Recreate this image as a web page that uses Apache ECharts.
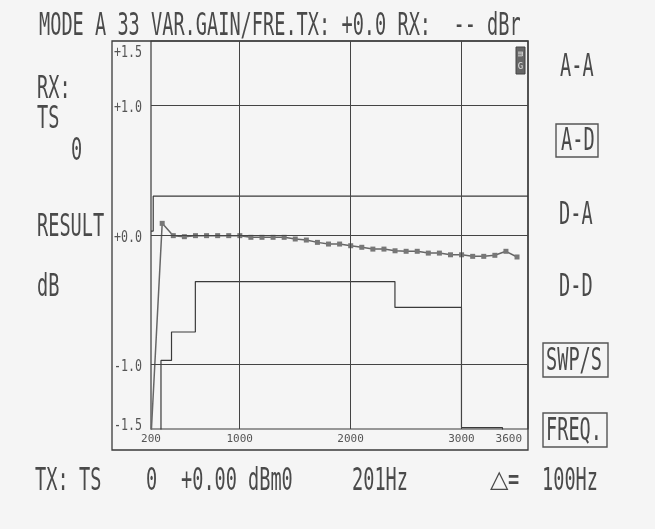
<!DOCTYPE html>
<html>
<head>
<meta charset="utf-8">
<script src="https://cdn.jsdelivr.net/npm/echarts@6/dist/echarts.min.js"></script>
<style>
html,body{margin:0;padding:0;background:#f5f5f5;}
#chart{width:655px;height:529px;}
</style>
</head>
<body>
<div id="chart"></div>
<script>
// ---- data ----
const freqs = [201, 301, 401, 501, 601, 701, 801, 901, 1001, 1101, 1201, 1301, 1401, 1501, 1601, 1701, 1801,
               1901, 2001, 2101, 2201, 2301, 2401, 2501, 2601, 2701, 2801, 2901, 3001, 3101, 3201, 3301, 3401, 3501];
const gain = [-1.55, 0.09, -0.005, -0.013, -0.005, -0.005, -0.005, -0.005, -0.005, -0.018, -0.018, -0.018, -0.018,
              -0.031, -0.039, -0.057, -0.07, -0.07, -0.083, -0.095, -0.109, -0.109, -0.122, -0.126, -0.126,
              -0.14, -0.14, -0.153, -0.153, -0.165, -0.165, -0.157, -0.126, -0.17];
const upperMaskF = [200, 220, 220, 3600];
const upperMaskV = [0.03, 0.03, 0.3, 0.3];
const lowerMaskF = [200, 290, 290, 385, 385, 600, 600, 2400, 2400, 3000, 3000, 3370, 3370, 3600];
const lowerMaskV = [-1.7, -1.7, -0.97, -0.97, -0.75, -0.75, -0.36, -0.36, -0.56, -0.56, -1.49, -1.49, -1.7, -1.7];
const hGrid = [1, 0, -1];
const vGrid = [1000, 2000, 3000];
const yTicks = [-1.5, -1, 0, 1, 1.5];
const xTicks = [200, 1000, 2000, 3000, 3600];

const titleText = 'MODE A 33 VAR.GAIN/FRE.TX: +0.0 RX:  -- dBr';
const leftLabels = ['RX:', 'TS', '0', 'RESULT', 'dB'];
const rightLabels = ['A-A', 'A-D', 'D-A', 'D-D', 'SWP/S', 'FREQ.'];
const boxedRight = ['A-D', 'SWP/S', 'FREQ.'];
const bottomLabels = ['TX:', 'TS', '0', '+0.00', 'dBm0', '201Hz', '\u25B3', '=', '100Hz'];

// ---- layout ----
const MONO = '"DejaVu Sans Mono", "Liberation Mono", monospace';
const TXT = '#4a4a4a';
const LINE = '#3a3a3a';
const BIG = 32, ADV = 11.2;

function monoText(str, left, capCenter, adv, size, color) {
  const s = adv / (0.602 * size);
  return {
    type: 'text', x: left, y: capCenter + 0.065 * size, scaleX: s, silent: true, z: 10,
    style: { text: str, fontFamily: MONO, fontSize: size, fill: color || TXT,
             textAlign: 'left', textVerticalAlign: 'middle', verticalAlign: 'middle' }
  };
}

const leftPos = [[37, 88], [37, 118], [71, 150], [37, 226], [37, 286]];
const rightPos = [[560, 66], [561, 140], [559, 214], [559, 286], [546, 360], [546, 430]];
const boxRects = { 'A-D': [556, 124, 42, 33], 'SWP/S': [543, 343, 65, 34], 'FREQ.': [543, 413, 64, 34] };
const bottomPos = [35, 79, 146, 181, 248, 352, 490, 508, 542];

const graphics = [];
graphics.push({ type: 'rect', shape: { x: 112, y: 41, width: 416, height: 409 },
  style: { fill: 'none', stroke: LINE, lineWidth: 1.3 }, silent: true, z: 1 });
graphics.push(monoText(titleText, 39, 24.5, ADV, BIG));
leftLabels.forEach((t, i) => graphics.push(monoText(t, leftPos[i][0], leftPos[i][1], ADV, BIG)));
rightLabels.forEach((t, i) => {
  graphics.push(monoText(t, rightPos[i][0], rightPos[i][1], ADV, BIG));
  if (boxedRight.indexOf(t) >= 0) {
    const r = boxRects[t];
    graphics.push({ type: 'rect', shape: { x: r[0], y: r[1], width: r[2], height: r[3] },
      style: { fill: 'none', stroke: '#555', lineWidth: 1.4 }, silent: true, z: 10 });
  }
});
bottomLabels.forEach((t, i) => {
  if (t === '\u25B3') {
    graphics.push({ type: 'text', x: bottomPos[i], y: 481, silent: true, z: 10,
      style: { text: t, fontFamily: '"DejaVu Sans"', fontSize: 24, fill: TXT,
               textAlign: 'left', textVerticalAlign: 'middle', verticalAlign: 'middle' } });
  } else {
    graphics.push(monoText(t, bottomPos[i], 480, ADV, BIG));
  }
});
// small badge at top right of plot
graphics.push({ type: 'rect', shape: { x: 516, y: 47, width: 9, height: 27 },
  style: { fill: '#666', stroke: '#444', lineWidth: 1 }, silent: true, z: 10 });
graphics.push({ type: 'text', x: 520.5, y: 54, rotation: -Math.PI / 2, silent: true, z: 11,
  style: { text: 'm', fontFamily: MONO, fontSize: 9, fill: '#e0e0e0', textAlign: 'center', textVerticalAlign: 'middle', verticalAlign: 'middle' } });
graphics.push({ type: 'text', x: 520.5, y: 67, silent: true, z: 11,
  style: { text: 'G', fontFamily: MONO, fontSize: 9, fill: '#e0e0e0', textAlign: 'center', textVerticalAlign: 'middle', verticalAlign: 'middle' } });

const chart = echarts.init(document.getElementById('chart'), null, { renderer: 'canvas' });

const option = {
  backgroundColor: '#f5f5f5',
  animation: false,
  grid: { left: 151, right: 127, top: 41, height: 388, show: true, borderColor: LINE, borderWidth: 1.2, backgroundColor: 'transparent' },
  xAxis: {
    type: 'value', min: 200, max: 3600,
    axisLine: { show: false }, axisTick: { show: false }, splitLine: { show: false },
    axisLabel: {
      customValues: xTicks, margin: 5, color: '#555', fontFamily: MONO, fontSize: 11,
      alignMaxLabel: 'right',
      formatter: v => v === 3600 ? '{mx|' + v + '}' : String(v),
      rich: { mx: { padding: [0, 6, 0, 0], fontFamily: MONO, fontSize: 11, color: '#555' } }
    }
  },
  yAxis: {
    type: 'value', min: -1.5, max: 1.5,
    axisLine: { show: false }, axisTick: { show: false }, splitLine: { show: false },
    axisLabel: { show: false }
  },
  series: [
    {
      type: 'line', name: 'upper', data: upperMaskF.map((f, i) => [f, upperMaskV[i]]),
      showSymbol: false, symbol: 'none', lineStyle: { color: LINE, width: 1.2 }, clip: true, z: 2,
      markLine: {
        silent: true, symbol: ['none', 'none'], label: { show: false },
        lineStyle: { color: '#444', width: 1, type: 'solid' },
        data: hGrid.map(v => ({ yAxis: v })).concat(vGrid.map(v => ({ xAxis: v })))
      }
    },
    {
      type: 'line', name: 'lower', data: lowerMaskF.map((f, i) => [f, lowerMaskV[i]]),
      showSymbol: false, symbol: 'none', lineStyle: { color: LINE, width: 1.2 }, clip: true, z: 2
    },
    {
      type: 'line', name: 'gain', data: freqs.map((f, i) => [f, gain[i]]),
      symbol: 'rect', symbolSize: 5, clip: true, z: 3,
      itemStyle: { color: '#777' }, lineStyle: { color: '#666', width: 1.5 }
    }
  ]
};
chart.setOption(option);

// y tick labels placed through the axis scale (taller dot-matrix style text)
const yMax = Math.max.apply(null, yTicks), yMin = Math.min.apply(null, yTicks);
yTicks.forEach(v => {
  const p = chart.convertToPixel({ gridIndex: 0 }, [200, v]);
  let cy = p[1] + 1.5;
  if (v === yMax) cy = p[1] + 11;
  if (v === yMin) cy = p[1] - 4;
  const s = (v >= 0 ? '+' : '') + v.toFixed(1);
  graphics.push(monoText(s, 114, cy, 7, 16, '#555'));
});
chart.setOption({ graphic: graphics });
</script>
</body>
</html>
